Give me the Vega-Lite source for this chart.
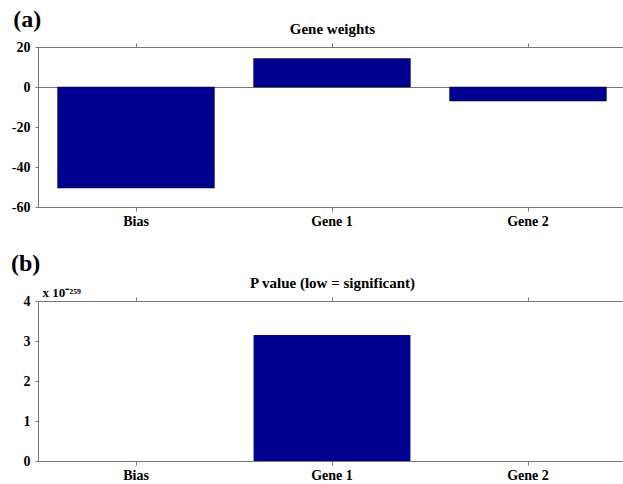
{
  "$schema": "https://vega.github.io/schema/vega-lite/v6.json",
  "background": "white",
  "padding": {"left": 10, "top": 7, "right": 0, "bottom": 0},
  "config": {
    "font": "Liberation Serif",
    "view": {"stroke": "#777777", "strokeWidth": 1},
    "axis": {
      "labelFont": "Liberation Serif", "labelFontWeight": "bold", "labelFontSize": 14, "labelColor": "black",
      "titleFont": "Liberation Serif", "titleFontWeight": "bold", "titleColor": "black",
      "domainColor": "#777777", "tickColor": "#777777", "grid": false, "labelOverlap": false
    },
    "title": {"font": "Liberation Serif", "fontWeight": "bold", "fontSize": 24, "anchor": "start", "color": "black", "frame": "bounds"}
  },
  "vconcat": [
    {
      "title": {"text": "(a)", "offset": -10, "dx": 2},
      "width": 588, "height": 160,
      "data": {"values": [
        {"label": "Bias", "value": -50.5},
        {"label": "Gene 1", "value": 14.2},
        {"label": "Gene 2", "value": -7}
      ]},
      "resolve": {"axis": {"x": "independent"}},
      "layer": [
        {
          "mark": {"type": "bar", "color": "#000090", "stroke": "black", "strokeWidth": 0.5},
          "encoding": {
            "x": {"field": "label", "type": "nominal", "sort": null,
                  "scale": {"paddingInner": 0.2, "paddingOuter": 0.1},
                  "axis": {"title": null, "labelAngle": 0, "tickSize": 4, "labelPadding": 3}},
            "y": {"field": "value", "type": "quantitative",
                  "scale": {"domain": [-60, 20], "nice": false, "zero": false},
                  "axis": {"title": null, "values": [-60, -40, -20, 0, 20], "tickSize": 3, "labelPadding": 5,
                           "labelExpr": "replace(datum.label, '\u2212', '-')",
                           "grid": true, "gridColor": "#777777", "gridWidth": 1,
                           "gridOpacity": {"condition": {"test": "datum.value === 0", "value": 1}, "value": 0}}}
          }
        },
        {
          "mark": {"type": "bar", "opacity": 0},
          "encoding": {
            "x": {"field": "label", "type": "nominal", "sort": null,
                  "axis": {"orient": "top", "labels": false, "tickSize": 4, "title": "Gene weights", "titleFontSize": 15, "titlePadding": 6}}
          }
        }
      ]
    },
    {
      "title": {"text": "(b)", "offset": 0, "dx": -12},
      "width": 588, "height": 160,
      "data": {"values": [
        {"label": "Bias", "value": 0},
        {"label": "Gene 1", "value": 3.15},
        {"label": "Gene 2", "value": 0}
      ]},
      "resolve": {"axis": {"x": "independent"}},
      "layer": [
        {
          "mark": {"type": "bar", "color": "#000090", "stroke": "black", "strokeWidth": 0},
          "encoding": {
            "x": {"field": "label", "type": "nominal", "sort": null,
                  "scale": {"paddingInner": 0.2, "paddingOuter": 0.1},
                  "axis": {"title": null, "labelAngle": 0, "tickSize": 4, "labelPadding": 3}},
            "y": {"field": "value", "type": "quantitative",
                  "scale": {"domain": [0, 4], "nice": false},
                  "axis": {"title": "x 10⁻²⁵⁹", "titleAngle": 0, "titleFontSize": 13, "titleAlign": "left", "titleBaseline": "alphabetic", "titleX": 4, "titleY": -5,
                           "values": [0, 1, 2, 3, 4], "tickSize": 3, "labelPadding": 5}}
          }
        },
        {
          "mark": {"type": "bar", "opacity": 0},
          "encoding": {
            "x": {"field": "label", "type": "nominal", "sort": null,
                  "axis": {"orient": "top", "labels": false, "tickSize": 4, "title": "P value (low = significant)", "titleFontSize": 15, "titlePadding": 6}}
          }
        }
      ]
    }
  ],
  "spacing": 22
}
